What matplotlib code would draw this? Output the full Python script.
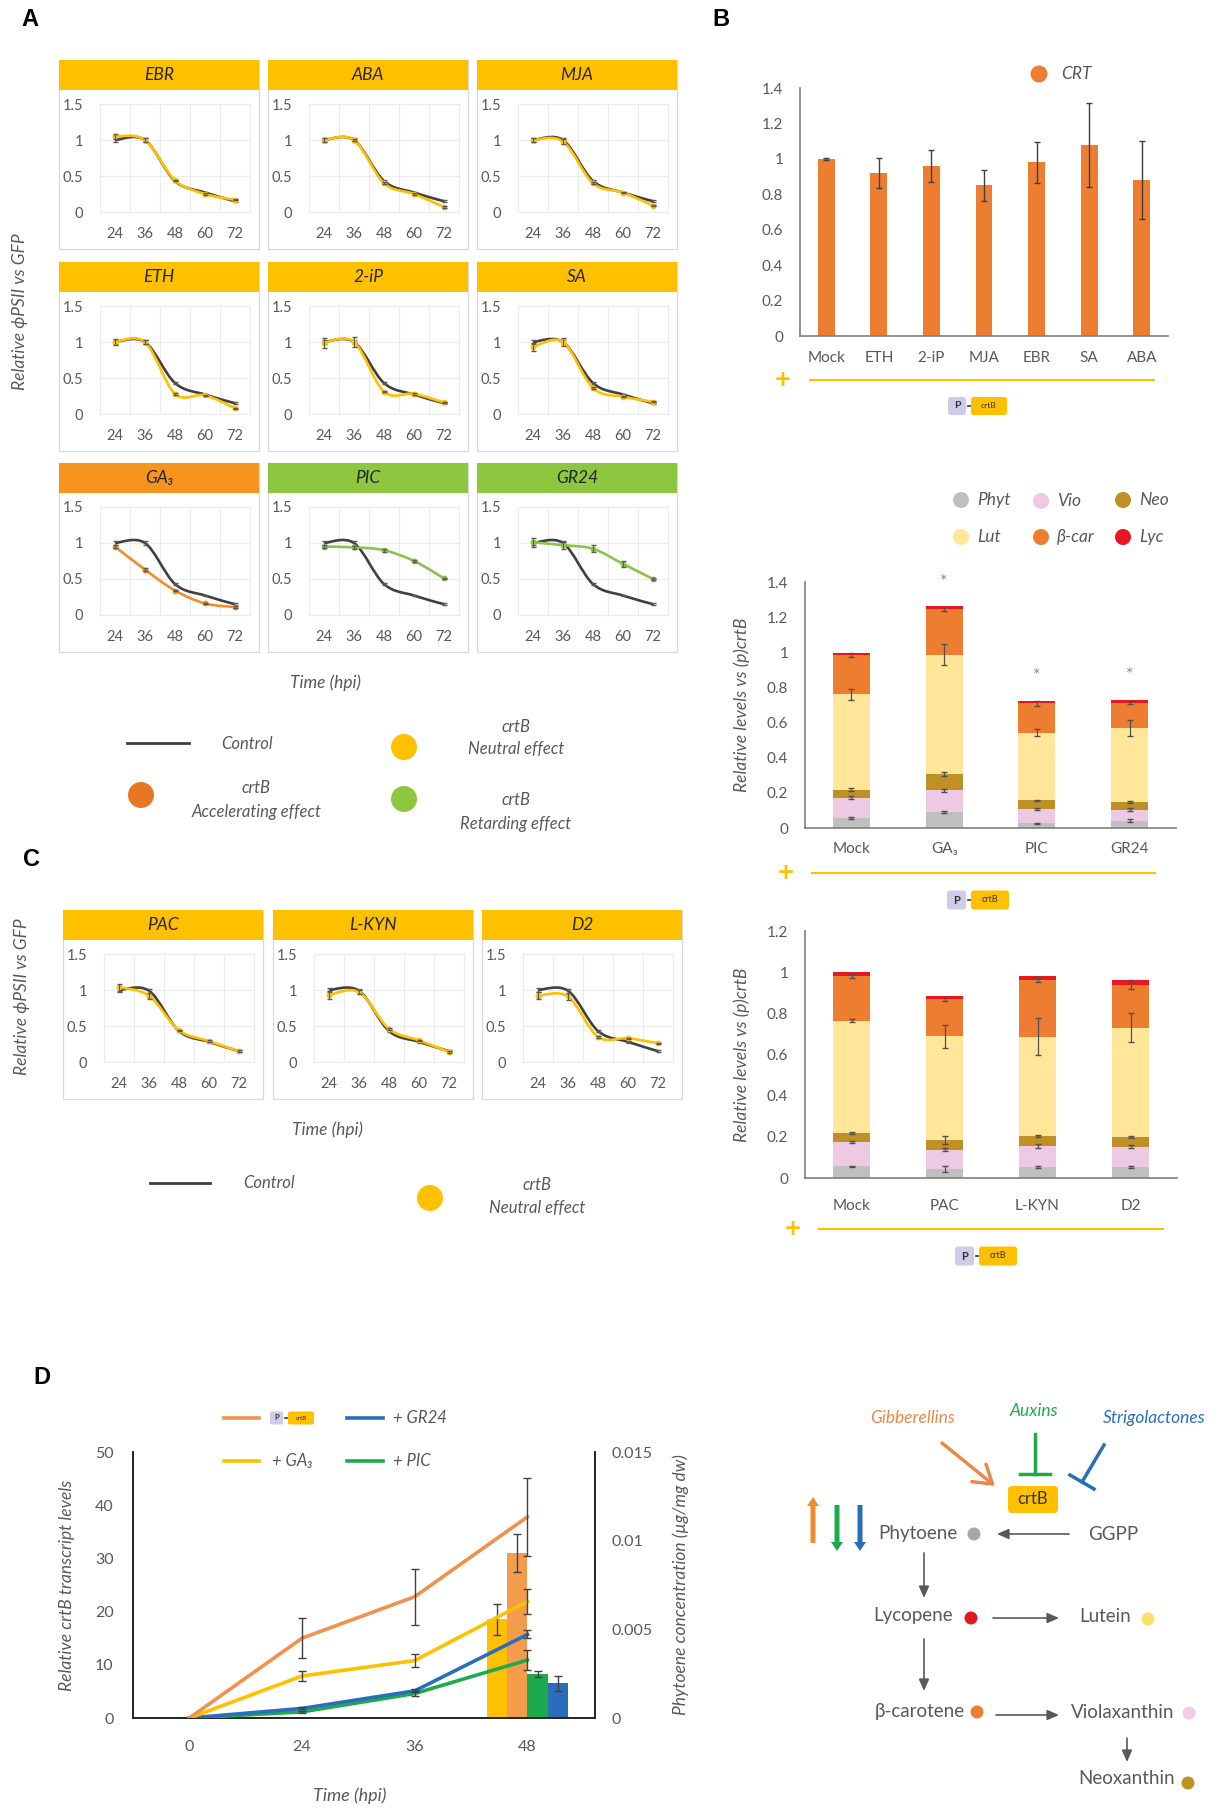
import numpy as np
import matplotlib
matplotlib.use('Agg')
import matplotlib.pyplot as plt
from matplotlib.path import Path
from matplotlib.patches import PathPatch, Rectangle, FancyBboxPatch, Circle, FancyArrow

plt.rcParams['font.family'] = ['Lato', 'DejaVu Sans']

# ---------------- data ----------------
time_pts = [24, 36, 48, 60, 72]

# panel A: relative phiPSII vs GFP
control_A = [1.0, 1.0, 0.43, 0.27, 0.15]
control_A_err = [0.03, 0.03, 0.01, 0.01, 0.01]
names_A = ['EBR', 'ABA', 'MJA', 'ETH', '2-iP', 'SA', 'GA₃', 'PIC', 'GR24']
effect_A = ['neutral', 'neutral', 'neutral', 'neutral', 'neutral', 'neutral',
            'accel', 'retard', 'retard']
crtb_EBR = [1.05, 1.0, 0.44, 0.25, 0.17]
crtb_ABA = [1.0, 1.0, 0.40, 0.25, 0.07]
crtb_MJA = [1.0, 0.98, 0.40, 0.27, 0.09]
crtb_ETH = [1.0, 1.0, 0.28, 0.26, 0.08]
crtb_2iP = [0.99, 1.0, 0.31, 0.28, 0.16]
crtb_SA = [0.93, 1.0, 0.36, 0.24, 0.17]
crtb_GA3 = [0.95, 0.63, 0.34, 0.16, 0.11]
crtb_PIC = [0.95, 0.94, 0.90, 0.75, 0.51]
crtb_GR24 = [1.01, 0.97, 0.92, 0.71, 0.50]
err_EBR = [0.04, 0.03, 0.01, 0.01, 0.01]
err_ABA = [0.03, 0.02, 0.01, 0.01, 0.01]
err_MJA = [0.03, 0.03, 0.01, 0.01, 0.01]
err_ETH = [0.04, 0.03, 0.01, 0.01, 0.01]
err_2iP = [0.07, 0.07, 0.01, 0.01, 0.01]
err_SA = [0.06, 0.06, 0.01, 0.01, 0.01]
err_GA3 = [0.02, 0.02, 0.01, 0.01, 0.01]
err_PIC = [0.02, 0.02, 0.02, 0.01, 0.01]
err_GR24 = [0.06, 0.05, 0.05, 0.04, 0.01]
vals_A = [crtb_EBR, crtb_ABA, crtb_MJA, crtb_ETH, crtb_2iP, crtb_SA, crtb_GA3, crtb_PIC, crtb_GR24]
errs_A = [err_EBR, err_ABA, err_MJA, err_ETH, err_2iP, err_SA, err_GA3, err_PIC, err_GR24]

# panel C
control_C = [1.0, 0.99, 0.43, 0.28, 0.15]
names_C = ['PAC', 'L-KYN', 'D2']
crtb_PAC = [1.04, 0.92, 0.44, 0.29, 0.15]
crtb_LKYN = [0.93, 0.97, 0.46, 0.30, 0.14]
crtb_D2 = [0.92, 0.91, 0.35, 0.33, 0.26]
err_PAC = [0.05, 0.04, 0.01, 0.01, 0.01]
err_LKYN = [0.05, 0.03, 0.01, 0.01, 0.01]
err_D2 = [0.05, 0.05, 0.01, 0.01, 0.01]
vals_C = [crtb_PAC, crtb_LKYN, crtb_D2]
errs_C = [err_PAC, err_LKYN, err_D2]

# panel B top: CRT transcript
crt_labels = ['Mock', 'ETH', '2-iP', 'MJA', 'EBR', 'SA', 'ABA']
crt_vals = [1.0, 0.92, 0.96, 0.85, 0.98, 1.08, 0.88]
crt_err = [0.005, 0.083, 0.092, 0.089, 0.114, 0.237, 0.22]

# panel B stacked carotenoids
pig_names = ['Phyt', 'Vio', 'Neo', 'Lut', 'β-car', 'Lyc']
st1_labels = ['Mock', 'GA₃', 'PIC', 'GR24']
phyt1 = [0.057, 0.091, 0.028, 0.042]
vio1 = [0.115, 0.123, 0.082, 0.062]
neo1 = [0.046, 0.092, 0.047, 0.044]
lut1 = [0.543, 0.681, 0.386, 0.423]
bcar1 = [0.223, 0.260, 0.166, 0.142]
lyc1 = [0.013, 0.015, 0.014, 0.015]
phyt1_e = [0.003, 0.007, 0.003, 0.008]
vio1_e = [0.008, 0.010, 0.006, 0.008]
neo1_e = [0.008, 0.010, 0.005, 0.006]
lut1_e = [0.030, 0.058, 0.020, 0.046]
bcar1_e = [0.010, 0.010, 0.012, 0.010]
st1_signif = [False, True, True, True]

st2_labels = ['Mock', 'PAC', 'L-KYN', 'D2']
phyt2 = [0.057, 0.045, 0.054, 0.054]
vio2 = [0.118, 0.093, 0.103, 0.098]
neo2 = [0.044, 0.045, 0.047, 0.047]
lut2 = [0.545, 0.506, 0.482, 0.531]
bcar2 = [0.217, 0.182, 0.274, 0.210]
lyc2 = [0.018, 0.013, 0.021, 0.020]
phyt2_e = [0.003, 0.015, 0.004, 0.004]
vio2_e = [0.005, 0.007, 0.010, 0.006]
neo2_e = [0.005, 0.020, 0.004, 0.005]
lut2_e = [0.007, 0.055, 0.090, 0.070]
bcar2_e = [0.010, 0.010, 0.010, 0.020]

# panel D
d_times = ['0', '24', '36', '48']
line_crtb = [0, 15.0, 22.8, 37.8]
line_crtb_e = [0, 3.75, 5.3, 7.3]
line_ga3 = [0, 7.9, 10.8, 21.9]
line_ga3_e = [0, 0.9, 1.2, 2.4]
line_gr24 = [0, 1.8, 5.1, 15.7]
line_gr24_e = [0, 0.2, 0.3, 0.75]
line_pic = [0, 1.15, 4.6, 10.9]
line_pic_e = [0, 0.2, 0.4, 1.8]
phyto_48 = [0.00556, 0.0093, 0.00248, 0.00196]     # GA3, crtB, PIC, GR24
phyto_48_e = [0.00086, 0.00105, 0.00019, 0.00042]

# ---------------- colours ----------------
GT = '#595959'
CTRL = '#404040'
YEL = '#FFC000'
ORA_H = '#F7941D'
GRN_H = '#8DC63F'
eff_line = {'neutral': '#FFC000', 'accel': '#F28C28', 'retard': '#8BC34A'}
eff_head = {'neutral': YEL, 'accel': ORA_H, 'retard': GRN_H}
pig_cols = ['#BFBFBF', '#EDC9E3', '#BF9026', '#FFE699', '#ED7D31', '#E8161E']
D_ORA, D_YEL, D_BLU, D_GRN = '#F0924E', '#FFC000', '#2A6EBB', '#1DAA4F'

W, H = 1220, 1809
fig = plt.figure(figsize=(W / 100, H / 100), dpi=100)


def px_axes(x0, y0, x1, y1):
    return fig.add_axes([x0 / W, 1 - y1 / H, (x1 - x0) / W, (y1 - y0) / H])


def smooth_path(xs, ys):
    # excel-like smoothed line (catmull-rom as bezier)
    p = list(zip(xs, ys))
    n = len(p)
    verts, codes = [p[0]], [Path.MOVETO]
    for i in range(n - 1):
        p0 = p[i - 1] if i > 0 else p[i]
        p1, p2 = p[i], p[i + 1]
        p3 = p[i + 2] if i + 2 < n else p[i + 1]
        c1 = (p1[0] + (p2[0] - p0[0]) / 6, p1[1] + (p2[1] - p0[1]) / 6)
        c2 = (p2[0] - (p3[0] - p1[0]) / 6, p2[1] - (p3[1] - p1[1]) / 6)
        verts += [c1, c2, p2]
        codes += [Path.CURVE4] * 3
    return Path(verts, codes)


frames = []  # (x0, ht, name, header colour)


def small_panel(x0, ht, name, hcol, vals, errs, lcol, ctrl, ctrl_err):
    hb = ht + 30
    frames.append((x0, ht, name, hcol))
    ax = px_axes(x0 + 41, hb + 14, x0 + 191, hb + 122)
    ax.set_xlim(18, 78)
    ax.set_ylim(0, 1.5)
    ax.set_xticks(time_pts)
    ax.set_yticks([0, 0.5, 1, 1.5])
    ax.set_yticklabels(['0', '0.5', '1', '1.5'])
    ax.set_xticks([30, 42, 54, 66], minor=True)
    ax.grid(True, which='minor', axis='x', color='#EBEBEB', lw=0.8)
    ax.grid(True, which='major', axis='y', color='#EBEBEB', lw=0.8)
    for s in ax.spines.values():
        s.set_color('#EBEBEB')
        s.set_linewidth(0.8)
    ax.tick_params(which='both', length=0, labelsize=10.5, colors=GT)
    ax.tick_params(axis='x', pad=11)
    ax.tick_params(axis='y', pad=12)
    ax.add_patch(PathPatch(smooth_path(time_pts, ctrl), fill=False, ec=CTRL, lw=1.9, zorder=3))
    ax.errorbar(time_pts, ctrl, yerr=ctrl_err, fmt='none', ecolor=GT, elinewidth=0.8, capsize=1.8, zorder=4)
    ax.add_patch(PathPatch(smooth_path(time_pts, vals), fill=False, ec=lcol, lw=1.9, zorder=5))
    ax.plot(time_pts, vals, 'o', color=lcol, ms=3.2, zorder=6)
    ax.errorbar(time_pts, vals, yerr=errs, fmt='none', ecolor=GT, elinewidth=0.8, capsize=1.8, zorder=7)
    return ax


cols_A = [59, 268, 477]
rows_A = [60, 262, 463]
for k, name in enumerate(names_A):
    r, c = divmod(k, 3)
    eff = effect_A[k]
    small_panel(cols_A[c], rows_A[r], name, eff_head[eff], vals_A[k], errs_A[k],
                eff_line[eff], control_A, control_A_err)

cols_C = [63, 273, 482]
for k, name in enumerate(names_C):
    small_panel(cols_C[k], 910, name, YEL, vals_C[k], errs_C[k], eff_line['neutral'],
                control_C, control_A_err)


def style_bar_axes(ax):
    for s in ['top', 'right']:
        ax.spines[s].set_visible(False)
    for s in ['left', 'bottom']:
        ax.spines[s].set_color('#7F7F7F')
        ax.spines[s].set_linewidth(1.2)
    ax.tick_params(length=0, labelsize=11, colors=GT)
    ax.tick_params(axis='y', pad=12)


# ---------------- panel B top ----------------
axb = px_axes(800, 88, 1168, 336)
xb = np.arange(len(crt_labels))
axb.bar(xb, crt_vals, 0.32, color='#ED7D31', zorder=2)
axb.errorbar(xb, crt_vals, yerr=crt_err, fmt='none', ecolor='#404040', elinewidth=1, capsize=2.5, zorder=3)
axb.set_xlim(-0.5, 6.5)
axb.set_ylim(0, 1.4)
axb.set_yticks(np.arange(0, 1.41, 0.2))
axb.set_yticklabels(['0', '0.2', '0.4', '0.6', '0.8', '1', '1.2', '1.4'])
axb.set_xticks(xb)
axb.set_xticklabels(crt_labels)
style_bar_axes(axb)
axb.tick_params(axis='x', pad=11)


def stacked(ax, labels, comps, errs, ymax, yticks, ylabs):
    x = np.arange(len(labels))
    bottom = np.zeros(len(labels))
    tops = []
    for vals, col in zip(comps, pig_cols):
        ax.bar(x, vals, 0.4, bottom=bottom, color=col, zorder=2)
        bottom = bottom + np.array(vals)
        tops.append(bottom.copy())
    for t, e in zip(tops, errs):
        ax.errorbar(x, t, yerr=e, fmt='none', ecolor='#505050', elinewidth=0.9, capsize=2.2, zorder=3)
    ax.set_xlim(-0.5, 3.5)
    ax.set_ylim(0, ymax)
    ax.set_yticks(yticks)
    ax.set_yticklabels(ylabs)
    ax.set_xticks(x)
    ax.set_xticklabels(labels)
    style_bar_axes(ax)
    ax.set_ylabel('Relative levels vs (p)crtB', fontsize=12.5, style='italic', color=GT, labelpad=12)
    return x, bottom


ax1 = px_axes(805, 582, 1176, 828)
x1, tot1 = stacked(ax1, st1_labels, [phyt1, vio1, neo1, lut1, bcar1, lyc1],
                   [phyt1_e, vio1_e, neo1_e, lut1_e, bcar1_e], 1.4,
                   np.arange(0, 1.41, 0.2), ['0', '0.2', '0.4', '0.6', '0.8', '1', '1.2', '1.4'])
ax1.tick_params(axis='x', pad=10)
for xi, t, s in zip(x1, tot1, st1_signif):
    if s:
        ax1.text(xi, t + 0.14, '*', ha='center', va='center', fontsize=13, color='#8C8C8C')

ax2 = px_axes(805, 931, 1177, 1178)
stacked(ax2, st2_labels, [phyt2, vio2, neo2, lut2, bcar2, lyc2],
        [phyt2_e, vio2_e, neo2_e, lut2_e, bcar2_e], 1.2,
        np.arange(0, 1.21, 0.2), ['0', '0.2', '0.4', '0.6', '0.8', '1', '1.2'])
ax2.tick_params(axis='x', pad=15)

# ---------------- panel D ----------------
axd = px_axes(133, 1452, 595, 1718)
axd2 = axd.twinx()
xd = np.arange(len(d_times))
bar_off = [-0.27, -0.09, 0.09, 0.27]
bar_cols = [D_YEL, '#F29C4C', D_GRN, D_BLU]
for off, v, e, c in zip(bar_off, phyto_48, phyto_48_e, bar_cols):
    axd2.bar(xd[-1] + off, v, 0.18, color=c, zorder=2)
    axd2.errorbar(xd[-1] + off, v, yerr=e, fmt='none', ecolor='#404040', elinewidth=1, capsize=3, zorder=3)
axd2.set_ylim(0, 0.015)
axd2.set_yticks([0, 0.005, 0.01, 0.015])
axd2.set_yticklabels(['0', '0.005', '0.01', '0.015'])
axd2.set_ylabel('Phytoene concentration (µg/mg dw)', fontsize=12.5, style='italic', color=GT,
                rotation=90, labelpad=14)
for ser, err, c in [(line_pic, line_pic_e, D_GRN), (line_gr24, line_gr24_e, D_BLU),
                    (line_ga3, line_ga3_e, D_YEL), (line_crtb, line_crtb_e, D_ORA)]:
    axd.plot(xd, ser, color=c, lw=2.6, zorder=3)
    axd.errorbar(xd[1:], ser[1:], yerr=err[1:], fmt='none', ecolor='#404040', elinewidth=1, capsize=3, zorder=4)
axd.set_zorder(axd2.get_zorder() + 1)
axd.patch.set_visible(False)
axd.set_xlim(-0.5, 3.6)
axd.set_ylim(0, 50)
axd.set_yticks([0, 10, 20, 30, 40, 50])
axd.set_xticks(xd)
axd.set_xticklabels(d_times)
axd.set_ylabel('Relative crtB transcript levels', fontsize=12.5, style='italic', color=GT, labelpad=14)
for a in (axd, axd2):
    a.spines['top'].set_visible(False)
    for s in ['left', 'right', 'bottom']:
        a.spines[s].set_color('#262626')
        a.spines[s].set_linewidth(1.3)
    a.tick_params(length=0, labelsize=11.5, colors=GT)
axd.tick_params(axis='y', pad=14)
axd.tick_params(axis='x', pad=16)
axd2.tick_params(axis='y', pad=12)

# ---------------- overlay: frames, legends, texts, diagram ----------------
ov = fig.add_axes([0, 0, 1, 1])
ov.set_xlim(0, W)
ov.set_ylim(H, 0)
ov.axis('off')

for x0, ht, name, hcol in frames:
    ov.add_patch(Rectangle((x0, ht), 200, 189, fc='none', ec='#D9D9D9', lw=0.9))
    ov.add_patch(Rectangle((x0, ht), 200, 30, fc=hcol, ec='none'))
    ov.text(x0 + 100, ht + 15, name, ha='center', va='center', fontsize=12.5, style='italic', color='#262626')

it = dict(style='italic', color=GT)
for lbl, x, y in [('A', 30, 19), ('B', 721, 19), ('C', 32, 860), ('D', 42, 1378)]:
    ov.text(x, y, lbl, ha='center', va='center', fontsize=17, fontweight='bold',
            family=['Liberation Sans', 'DejaVu Sans'], color='black')

ov.text(20, 312, 'Relative ϕPSII vs GFP', rotation=90, ha='center', va='center', fontsize=12.5, **it)
ov.text(325, 683, 'Time (hpi)', ha='center', va='center', fontsize=12.5, **it)
ov.text(22, 997, 'Relative ϕPSII vs GFP', rotation=90, ha='center', va='center', fontsize=12.5, **it)
ov.text(328, 1130, 'Time (hpi)', ha='center', va='center', fontsize=12.5, **it)
ov.text(350, 1796, 'Time (hpi)', ha='center', va='center', fontsize=13, **it)

# legend A
ov.plot([127, 189], [743, 743], color=CTRL, lw=2)
ov.text(247, 744, 'Control', ha='center', va='center', fontsize=12, **it)
ov.add_patch(Circle((404, 747), 13, fc=YEL, ec='none'))
ov.text(516, 727, 'crtB', ha='center', va='center', fontsize=12, **it)
ov.text(516, 749, 'Neutral effect', ha='center', va='center', fontsize=12, **it)
ov.add_patch(Circle((141, 795), 13, fc='#E87722', ec='none'))
ov.text(256, 788, 'crtB', ha='center', va='center', fontsize=12, **it)
ov.text(256, 812, 'Accelerating effect', ha='center', va='center', fontsize=12, **it)
ov.add_patch(Circle((404, 799), 13, fc=GRN_H, ec='none'))
ov.text(516, 800, 'crtB', ha='center', va='center', fontsize=12, **it)
ov.text(516, 824, 'Retarding effect', ha='center', va='center', fontsize=12, **it)

# legend C
ov.plot([150, 210], [1183, 1183], color=CTRL, lw=2)
ov.text(269, 1183, 'Control', ha='center', va='center', fontsize=12, **it)
ov.add_patch(Circle((430, 1198), 13, fc=YEL, ec='none'))
ov.text(537, 1185, 'crtB', ha='center', va='center', fontsize=12, **it)
ov.text(537, 1208, 'Neutral effect', ha='center', va='center', fontsize=12, **it)

# legend B top
ov.add_patch(Circle((1039, 74), 8.5, fc='#ED7D31', ec='none'))
ov.text(1061, 74, 'CRT', ha='left', va='center', fontsize=12.5, **it)

# legend B stacked
leg_pos = [(961, 500), (1041, 501), (1123, 500), (961, 537), (1041, 537), (1123, 537)]
for (lx, ly), nm, col in zip(leg_pos, ['Phyt', 'Vio', 'Neo', 'Lut', 'β-car', 'Lyc'],
                             [pig_cols[0], pig_cols[1], pig_cols[2], pig_cols[3], pig_cols[4], pig_cols[5]]):
    ov.add_patch(Circle((lx, ly), 8, fc=col, ec='none'))
    ov.text(lx + 16, ly, nm, ha='left', va='center', fontsize=12.5, **it)


def pcrtb(xl, yc, h):
    ov.add_patch(FancyBboxPatch((xl, yc - h / 2), h, h, boxstyle='round,pad=0,rounding_size=%g' % (h * 0.15),
                                fc='#CFCBE8', ec='none'))
    ov.text(xl + h / 2, yc, 'P', ha='center', va='center', fontsize=h * 0.42, color='#333333', fontweight='bold')
    ov.plot([xl + h + 1.5, xl + h + 3.5], [yc, yc], color='#333333', lw=1.2)
    ov.add_patch(FancyBboxPatch((xl + h + 5, yc - h / 2), h * 2, h, boxstyle='round,pad=0,rounding_size=%g' % (h * 0.15),
                                fc=YEL, ec='none'))
    ov.text(xl + h + 5 + h, yc, 'crtB', ha='center', va='center', fontsize=h * 0.34, color='#333333')


def plus_line(xp, yc, x0, x1):
    ov.text(xp, yc, '+', ha='center', va='center', fontsize=20, fontweight='bold', color=YEL)
    ov.plot([x0, x1], [yc, yc], color=YEL, lw=1.5)


plus_line(783, 380, 810, 1154)
pcrtb(948, 406, 18)
plus_line(786, 873, 812, 1155)
pcrtb(947, 900, 19)
plus_line(793, 1229, 819, 1163)
pcrtb(955, 1256, 19)

# legend D
ov.plot([224, 259], [1418, 1418], color=D_ORA, lw=2.6)
pcrtb(270, 1418, 13)
ov.plot([347, 383], [1418, 1418], color=D_BLU, lw=2.6)
ov.text(393, 1418, '+ GR24', ha='left', va='center', fontsize=12, **it)
ov.plot([224, 259], [1461, 1461], color=D_YEL, lw=2.6)
ov.text(272, 1461, '+ GA₃', ha='left', va='center', fontsize=12, **it)
ov.plot([347, 383], [1461, 1461], color=D_GRN, lw=2.6)
ov.text(393, 1461, '+ PIC', ha='left', va='center', fontsize=12, **it)

# pathway diagram
ov.text(913, 1418, 'Gibberellins', ha='center', va='center', fontsize=12.5, style='italic', color='#E8894A')
ov.text(1034, 1411, 'Auxins', ha='center', va='center', fontsize=12.5, style='italic', color=D_GRN)
ov.text(1154, 1418, 'Strigolactones', ha='center', va='center', fontsize=12.5, style='italic', color=D_BLU)
ov.annotate('', xy=(995, 1486), xytext=(942, 1443),
            arrowprops=dict(arrowstyle='->,head_length=0.7,head_width=0.45', color='#E8894A', lw=2.5,
                            shrinkA=0, shrinkB=0, mutation_scale=18))
ov.plot([1035, 1035], [1434, 1474], color=D_GRN, lw=2.5)
ov.plot([1020, 1050], [1474, 1474], color=D_GRN, lw=2.5)
ov.plot([1104, 1082], [1445, 1482], color=D_BLU, lw=2.5)
ov.plot([1070, 1094], [1475, 1489], color=D_BLU, lw=2.5)
ov.add_patch(FancyBboxPatch((1008, 1486), 50, 27, boxstyle='round,pad=0,rounding_size=4', fc=YEL, ec='none'))
ov.text(1033, 1499.5, 'crtB', ha='center', va='center', fontsize=12, color='#333333')

ov.add_patch(FancyArrow(813, 1543, 0, -46, width=5, head_width=12, head_length=9,
                        length_includes_head=True, color='#F08A30', lw=0))
ov.add_patch(FancyArrow(837, 1505, 0, 46, width=5, head_width=12, head_length=9,
                        length_includes_head=True, color=D_GRN, lw=0))
ov.add_patch(FancyArrow(860, 1505, 0, 46, width=5, head_width=12, head_length=9,
                        length_includes_head=True, color=D_BLU, lw=0))

arr = dict(arrowstyle='-|>,head_length=0.5,head_width=0.22', color='#595959', lw=1.2,
           shrinkA=0, shrinkB=0, mutation_scale=14)
for (xa, ya), (xb_, yb_) in [((1069, 1534), (997, 1534)), ((924, 1553), (924, 1598)),
                             ((993, 1618), (1059, 1618)), ((924, 1639), (924, 1691)),
                             ((996, 1715), (1059, 1715)), ((1127, 1738), (1127, 1762))]:
    ov.annotate('', xy=(xb_, yb_), xytext=(xa, ya), arrowprops=arr)

nodes = [('Phytoene', 918, 1533, 974, 1534, '#A6A6A6'),
         ('GGPP', 1113, 1534, None, None, None),
         ('Lycopene', 913, 1616, 971, 1618, '#E8161E'),
         ('Lutein', 1105, 1617, 1148, 1619, '#FFE066'),
         ('β-carotene', 920, 1712, 977, 1712, '#ED7D31'),
         ('Violaxanthin', 1123, 1712, 1189, 1713, '#F0CDE5'),
         ('Neoxanthin', 1127, 1779, 1188, 1783, '#BF9026')]
for txt, tx, ty, dx, dy, dc in nodes:
    ov.text(tx, ty, txt, ha='center', va='center', fontsize=13.5, color=GT)
    if dc is not None:
        ov.add_patch(Circle((dx, dy), 6.5, fc=dc, ec='none'))

fig.savefig('out.png', dpi=100, facecolor='white')
